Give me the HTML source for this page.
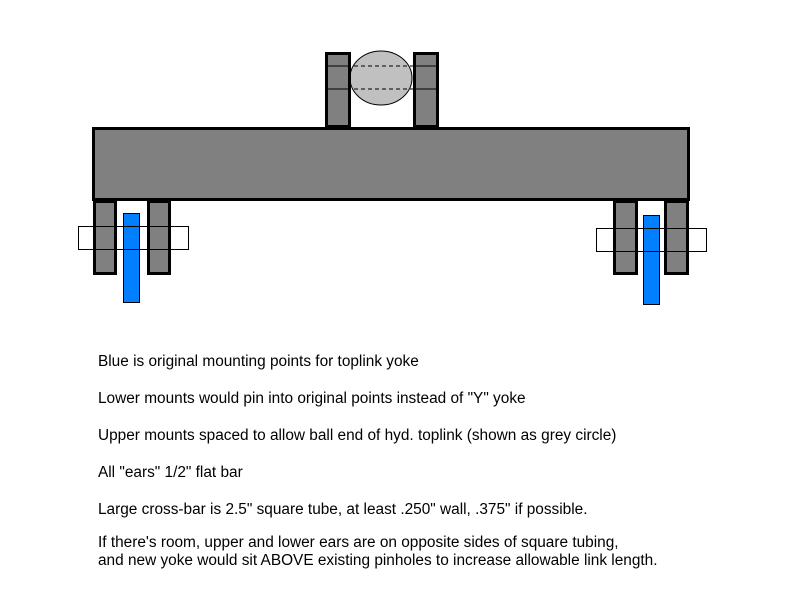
<!DOCTYPE html>
<html><head><style>body{margin:0;background:#fff}</style></head><body>
<svg width="800" height="600" xmlns="http://www.w3.org/2000/svg" style="display:block">
<rect width="800" height="600" fill="#fff"/>
<g stroke="#000">
<ellipse cx="381" cy="78" rx="31" ry="27" fill="#c0c0c0" stroke-width="1"/>
<line x1="326" y1="66" x2="438" y2="66" stroke-width="1" stroke-dasharray="4,3"/>
<line x1="326" y1="89" x2="438" y2="89" stroke-width="1" stroke-dasharray="4,3"/>
<rect x="326.5" y="53.5" width="23" height="73" fill="#808080" stroke-width="3"/>
<rect x="414.5" y="53.5" width="23" height="73" fill="#808080" stroke-width="3"/>
<line x1="326" y1="66" x2="350" y2="66"/><line x1="414" y1="66" x2="438" y2="66"/>
<line x1="326" y1="89" x2="350" y2="89"/><line x1="414" y1="89" x2="438" y2="89"/>
<rect x="93.5" y="128.5" width="595" height="71" fill="#808080" stroke-width="3"/>
<rect x="94.5" y="201.5" width="21" height="72" fill="#808080" stroke-width="3"/>
<rect x="148.5" y="201.5" width="21" height="72" fill="#808080" stroke-width="3"/>
<rect x="614.5" y="201.5" width="22" height="72" fill="#808080" stroke-width="3"/>
<rect x="665.5" y="201.5" width="22" height="72" fill="#808080" stroke-width="3"/>
<rect x="123.5" y="213.5" width="16" height="89" fill="#0080ff" stroke-width="1"/>
<rect x="643.5" y="215.5" width="16" height="89" fill="#0080ff" stroke-width="1"/>
<rect x="78.5" y="226.5" width="110" height="23" fill="none" stroke-width="1"/>
<rect x="596.5" y="228.5" width="110" height="23" fill="none" stroke-width="1"/>
</g>
<g font-family="Liberation Sans, Arial, sans-serif" font-size="15.4" fill="#000">
<text x="98" y="366">Blue is original mounting points for toplink yoke</text>
<text x="98" y="403">Lower mounts would pin into original points instead of "Y" yoke</text>
<text x="98" y="440">Upper mounts spaced to allow ball end of hyd. toplink (shown as grey circle)</text>
<text x="98" y="477">All "ears" 1/2" flat bar</text>
<text x="98" y="514">Large cross-bar is 2.5" square tube, at least .250" wall, .375" if possible.</text>
<text x="98" y="547">If there's room, upper and lower ears are on opposite sides of square tubing,</text>
<text x="98" y="565">and new yoke would sit ABOVE existing pinholes to increase allowable link length.</text>
</g>
</svg>
</body></html>
